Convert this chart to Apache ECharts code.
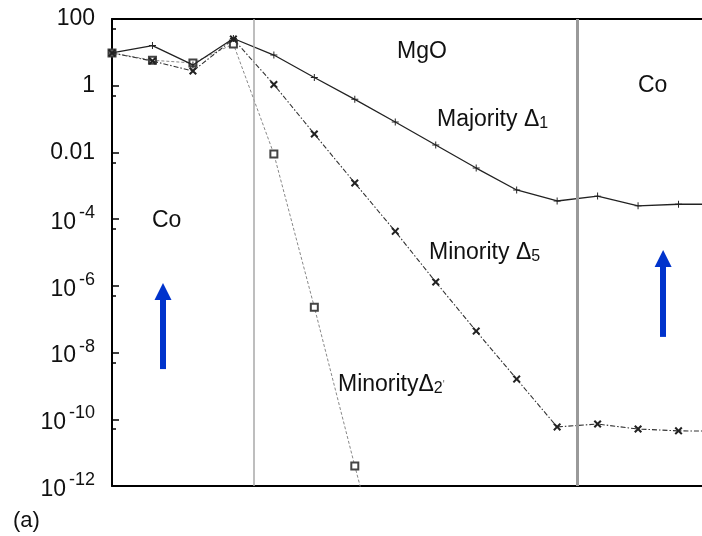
<!DOCTYPE html>
<html>
<head>
<meta charset="utf-8">
<script src="https://cdn.jsdelivr.net/npm/echarts@6/dist/echarts.min.js"></script>
<style>
  html, body { margin: 0; padding: 0; background: #fff; }
  #chart { width: 702px; height: 536px; }
</style>
</head>
<body>
<div id="chart"></div>
<script>
// Layer index along the stack (Co | MgO | Co); interfaces sit at half-integers.
const layers = [0, 1, 2, 3, 4, 5, 6, 7, 8, 9, 10, 11, 12, 13, 14, 15];

// Transmission-like decay of each symmetry channel (log scale).
const majorityD1 = [9.6, 16, 4.2, 26, 8.3, 1.76, 0.39, 0.082, 0.0167, 0.0034,
                    7.5e-4, 3.5e-4, 4.9e-4, 2.5e-4, 2.8e-4, 2.8e-4];
const minorityD5 = [9.6, 5.5, 2.76, 25, 1.09, 0.0357, 1.21e-3, 4.3e-5, 1.3e-6, 4.4e-8,
                    1.6e-9, 5.9e-11, 7.2e-11, 5.1e-11, 4.5e-11, 4.4e-11];
const minorityD2p = [9.6, 5.8, 4.8, 17.8, 9.0e-3, 2.3e-7, 4e-12, 1e-16];

// Interface positions (in layer units).
const interfaces = [3.5, 11.5];

// Tick labels on the log axis, keyed by decade exponent.
const tickLabels = {
  '2': '100', '0': '1', '-2': '0.01',
  '-4': '10^-4', '-6': '10^-6', '-8': '10^-8', '-10': '10^-10', '-12': '10^-12'
};

// Spin-direction arrows: [layer, from value, to value].
const arrows = [
  [1.26, 3.2e-9, 6.8e-7],
  [13.62, 2.95e-8, 6.6e-6]
];

const FONT = '"Liberation Sans", Arial, Helvetica, sans-serif';

function pairs(arr) {
  return arr.map((v, i) => [layers[i], v]);
}

const plusPath = 'path://M4.3,0 H5.7 V4.3 H10 V5.7 H5.7 V10 H4.3 V5.7 H0 V4.3 H4.3 Z';
const crossPath = 'path://M0,1.8 L1.8,0 L5,3.2 L8.2,0 L10,1.8 L6.8,5 L10,8.2 L8.2,10 L5,6.8 L1.8,10 L0,8.2 L3.2,5 Z';

const chart = echarts.init(document.getElementById('chart'), null, { renderer: 'canvas' });

const option = {
  animation: false,
  backgroundColor: '#ffffff',
  grid: { left: 112, top: 19, right: 0, bottom: 50, containLabel: false },
  xAxis: [
    {
      type: 'value', min: 0, max: 14.58, position: 'bottom',
      axisLine: { show: true, onZero: false, lineStyle: { color: '#000', width: 2 } },
      axisTick: { show: false }, axisLabel: { show: false }, splitLine: { show: false }
    },
    {
      type: 'value', min: 0, max: 14.58, position: 'top',
      axisLine: { show: true, onZero: false, lineStyle: { color: '#000', width: 2 } },
      axisTick: { show: false }, axisLabel: { show: false }, splitLine: { show: false }
    }
  ],
  yAxis: {
    type: 'log', logBase: 10, min: 1e-12, max: 100, interval: 2,
    axisLine: { show: true, lineStyle: { color: '#000', width: 2 } },
    axisTick: { show: true, inside: true, length: 7, lineStyle: { color: '#000', width: 1.5 } },
    minorTick: { show: true, splitNumber: 2, length: 4, lineStyle: { color: '#000', width: 1.5 } },
    splitLine: { show: false },
    minorSplitLine: { show: false },
    axisLabel: {
      margin: 17,
      color: '#111',
      fontFamily: FONT,
      fontSize: 23,
      formatter: function (v) {
        const e = Math.round(Math.log10(v));
        const t = tickLabels[String(e)];
        if (!t) return '';
        if (t.indexOf('^') < 0) return '{p|' + t + '}';
        const parts = t.split('^');
        return '{n|' + parts[0] + '}{e|' + parts[1] + '}';
      },
      rich: {
        p: { fontSize: 23, fontFamily: FONT, color: '#111' },
        n: { fontSize: 23, fontFamily: FONT, color: '#111', padding: [7, 0, 0, 0] },
        e: { fontSize: 18, fontFamily: FONT, color: '#111', verticalAlign: 'top', padding: [0, 0, 0, 3] }
      }
    }
  },
  series: [
    {
      name: 'Majority Δ1',
      type: 'line',
      data: pairs(majorityD1),
      clip: true,
      symbol: plusPath,
      symbolSize: 7,
      showAllSymbol: true,
      itemStyle: { color: '#222' },
      lineStyle: { color: '#222', width: 1.3, type: 'solid' },
      z: 4,
      markLine: {
        silent: true,
        symbol: ['none', 'none'],
        label: { show: false },
        data: [
          { xAxis: interfaces[0], lineStyle: { color: '#a8a8a8', width: 1.5, type: 'solid' } },
          { xAxis: interfaces[1], lineStyle: { color: '#9a9a9a', width: 3, type: 'solid' } }
        ]
      }
    },
    {
      name: 'Minority Δ5',
      type: 'line',
      data: pairs(minorityD5),
      clip: true,
      symbol: crossPath,
      symbolSize: 8,
      itemStyle: { color: '#222' },
      lineStyle: { color: '#333', width: 1.1, type: [5, 2, 1.5, 2] },
      z: 3
    },
    {
      name: "Minority Δ2'",
      type: 'line',
      data: pairs(minorityD2p),
      clip: true,
      symbol: 'emptyRect',
      symbolSize: 7,
      itemStyle: { color: '#444', borderColor: '#444', borderWidth: 1.2 },
      lineStyle: { color: '#888', width: 1, type: [3, 2] },
      z: 2
    },
    {
      name: 'arrows',
      type: 'line',
      data: [],
      markLine: {
        silent: true,
        symbol: ['none', 'triangle'],
        symbolSize: [17, 17],
        label: { show: false },
        lineStyle: { color: '#0033cc', width: 6, type: 'solid' },
        itemStyle: { color: '#0033cc' },
        data: arrows.map(a => [{ coord: [a[0], a[1]] }, { coord: [a[0], a[2]] }])
      }
    }
  ],
  graphic: [
    { type: 'text', x: 397, y: 52, style: { text: 'MgO', fontSize: 23, fontFamily: FONT, fill: '#111', verticalAlign: 'middle' } },
    { type: 'text', x: 152, y: 221, style: { text: 'Co', fontSize: 23, fontFamily: FONT, fill: '#111', verticalAlign: 'middle' } },
    { type: 'text', x: 638, y: 86, style: { text: 'Co', fontSize: 23, fontFamily: FONT, fill: '#111', verticalAlign: 'middle' } },
    {
      type: 'text', x: 437, y: 120,
      style: {
        text: '{m|Majority Δ}{s|1}', verticalAlign: 'middle',
        rich: {
          m: { fontSize: 23, fontFamily: FONT, fill: '#111' },
          s: { fontSize: 16, fontFamily: FONT, fill: '#111', verticalAlign: 'bottom' }
        }
      }
    },
    {
      type: 'text', x: 429, y: 253,
      style: {
        text: '{m|Minority Δ}{s|5}', verticalAlign: 'middle',
        rich: {
          m: { fontSize: 23, fontFamily: FONT, fill: '#111' },
          s: { fontSize: 16, fontFamily: FONT, fill: '#111', verticalAlign: 'bottom' }
        }
      }
    },
    {
      type: 'text', x: 338, y: 385,
      style: {
        text: "{m|MinorityΔ}{s|2}{p|'}", verticalAlign: 'middle',
        rich: {
          m: { fontSize: 23, fontFamily: FONT, fill: '#111' },
          s: { fontSize: 16, fontFamily: FONT, fill: '#111', verticalAlign: 'bottom' },
          p: { fontSize: 10, fontFamily: FONT, fill: '#666', verticalAlign: 'middle' }
        }
      }
    },
    { type: 'text', x: 13, y: 521, style: { text: '(a)', fontSize: 22, fontFamily: FONT, fill: '#111', verticalAlign: 'middle' } }
  ]
};

chart.setOption(option);
</script>
</body>
</html>
